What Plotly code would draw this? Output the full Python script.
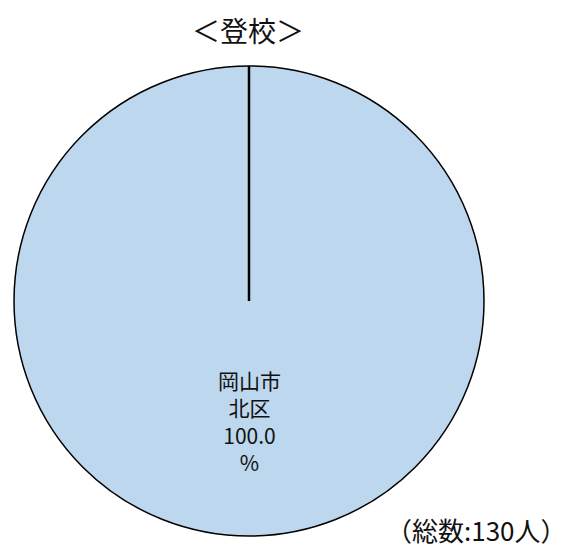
import plotly.graph_objects as go

labels = ["岡山市北区"]
values = [130]
pct_text = ["岡山市<br>北区<br>100.0<br>%"]
total_label = "（総数:130人）"
title_text = "＜登校＞"

font = "Noto Sans CJK JP"

fig = go.Figure(
    go.Pie(
        labels=labels,
        values=values,
        sort=False,
        direction="clockwise",
        textinfo="none",
        hoverinfo="label+percent",
        marker=dict(colors=["#BDD7EE"], line=dict(color="black", width=1.5)),
        showlegend=False,
    )
)

# radial edge of the single slice (plotly draws a full circle without it)
fig.add_shape(type="line", xref="paper", yref="paper",
              x0=0.5, y0=0.5, x1=0.5, y1=1.0,
              line=dict(color="black", width=2.5))

fig.add_annotation(text=pct_text[0], xref="paper", yref="paper",
                   x=0.5, y=0.245, xanchor="center", yanchor="middle",
                   showarrow=False,
                   font=dict(family=font, size=21, color="#111"))
fig.add_annotation(text=total_label, xref="paper", yref="paper",
                   x=0.985, y=0.013, xanchor="center", yanchor="middle",
                   showarrow=False,
                   font=dict(family=font, size=26, color="#111"))

# the page body adds an 8px offset, so positions are shifted back by 8px
fig.update_layout(
    width=585, height=557,
    margin=dict(l=6, r=109, t=58, b=29),
    paper_bgcolor="white",
    title=dict(text=title_text, x=240 / 585, xanchor="center",
               y=1 - 24 / 557, yanchor="middle", yref="container",
               font=dict(family=font, size=28, color="#111")),
    font=dict(family=font),
)

fig.write_html("out.html")
